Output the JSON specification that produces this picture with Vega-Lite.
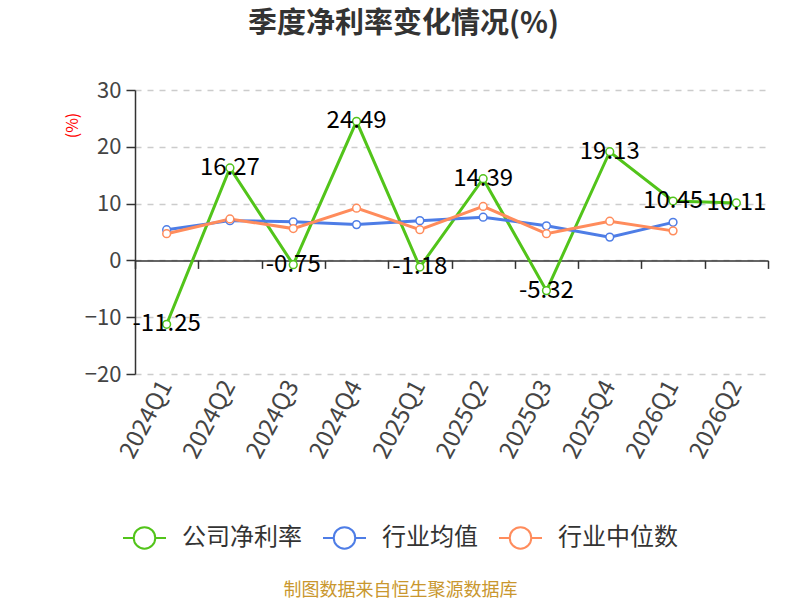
{
  "$schema": "https://vega.github.io/schema/vega-lite/v6.json",
  "width": 633,
  "height": 284,
  "autosize": {"type": "none"},
  "padding": {"left": 135, "top": 90, "right": 32, "bottom": 226},
  "background": "white",
  "title": {
    "text": "季度净利率变化情况(%)",
    "anchor": "middle",
    "dx": -48,
    "offset": 40,
    "fontSize": 29,
    "fontWeight": "bold",
    "color": "#333333",
    "font": "Noto Sans CJK SC"
  },
  "data": {
    "values": [
      {"quarter": "2024Q1", "series": "公司净利率", "value": -11.25},
      {"quarter": "2024Q2", "series": "公司净利率", "value": 16.27},
      {"quarter": "2024Q3", "series": "公司净利率", "value": -0.75},
      {"quarter": "2024Q4", "series": "公司净利率", "value": 24.49},
      {"quarter": "2025Q1", "series": "公司净利率", "value": -1.18},
      {"quarter": "2025Q2", "series": "公司净利率", "value": 14.39},
      {"quarter": "2025Q3", "series": "公司净利率", "value": -5.32},
      {"quarter": "2025Q4", "series": "公司净利率", "value": 19.13},
      {"quarter": "2026Q1", "series": "公司净利率", "value": 10.45},
      {"quarter": "2026Q2", "series": "公司净利率", "value": 10.11},
      {"quarter": "2024Q1", "series": "行业均值", "value": 5.4},
      {"quarter": "2024Q2", "series": "行业均值", "value": 7.0},
      {"quarter": "2024Q3", "series": "行业均值", "value": 6.8},
      {"quarter": "2024Q4", "series": "行业均值", "value": 6.3},
      {"quarter": "2025Q1", "series": "行业均值", "value": 7.0},
      {"quarter": "2025Q2", "series": "行业均值", "value": 7.6},
      {"quarter": "2025Q3", "series": "行业均值", "value": 6.1},
      {"quarter": "2025Q4", "series": "行业均值", "value": 4.1},
      {"quarter": "2026Q1", "series": "行业均值", "value": 6.7},
      {"quarter": "2024Q1", "series": "行业中位数", "value": 4.7},
      {"quarter": "2024Q2", "series": "行业中位数", "value": 7.3},
      {"quarter": "2024Q3", "series": "行业中位数", "value": 5.6},
      {"quarter": "2024Q4", "series": "行业中位数", "value": 9.2},
      {"quarter": "2025Q1", "series": "行业中位数", "value": 5.4},
      {"quarter": "2025Q2", "series": "行业中位数", "value": 9.5},
      {"quarter": "2025Q3", "series": "行业中位数", "value": 4.7},
      {"quarter": "2025Q4", "series": "行业中位数", "value": 6.9},
      {"quarter": "2026Q1", "series": "行业中位数", "value": 5.2}
    ]
  },
  "encoding": {
    "y": {
      "field": "value",
      "type": "quantitative",
      "scale": {"domain": [-20, 30], "nice": false, "zero": false},
      "axis": {
        "values": [-20, -10, 0, 10, 20, 30],
        "title": "(%)",
        "titleColor": "red",
        "titleFontSize": 16,
        "titleFontWeight": "normal",
        "titleX": -63,
        "titleY": 35,
        "titleAngle": -90,
        "titleAlign": "center",
        "titleBaseline": "middle",
        "labelFontSize": 22,
        "labelColor": "#444444",
        "labelPadding": 5,
        "tickSize": 9,
        "tickColor": "#333333",
        "domainColor": "#333333",
        "domainWidth": 1.5,
        "tickWidth": 1.5,
        "gridColor": "#cccccc",
        "gridDash": [6, 6],
        "gridWidth": 1.5
      }
    }
  },
  "layer": [
    {
      "mark": {
        "type": "line",
        "strokeWidth": 3,
        "point": {"filled": false, "fill": "white", "size": 60, "strokeWidth": 1.5}
      },
      "encoding": {
        "x": {
          "field": "quarter",
          "type": "nominal",
          "sort": null,
          "axis": {
            "orient": "bottom",
            "offset": -113.6,
            "labels": false,
            "title": null,
            "grid": false,
            "tickBand": "extent",
            "tickSize": 8,
            "tickColor": "#333333",
            "tickWidth": 1.5,
            "domainColor": "#333333",
            "domainWidth": 1.5
          }
        },
        "color": {
          "field": "series",
          "type": "nominal",
          "scale": {
            "domain": ["公司净利率", "行业均值", "行业中位数"],
            "range": ["#52c41a", "#4e7de6", "#ff8c5c"]
          },
          "legend": {
            "title": null,
            "orient": "none",
            "direction": "horizontal",
            "legendX": -13,
            "legendY": 425,
            "symbolType": "M-1,0H-0.5M0.5,0H1M0.5,0A0.5,0.5 0 1,1 -0.5,0A0.5,0.5 0 1,1 0.5,0",
            "symbolSize": 1849,
            "symbolStrokeWidth": 2,
            "symbolFillColor": "white",
            "labelFontSize": 24,
            "labelColor": "#333333",
            "labelOffset": 15,
            "columnPadding": 17,
            "labelFont": "Noto Sans CJK SC"
          }
        }
      }
    },
    {
      "transform": [{"filter": "datum.series === '公司净利率'"}],
      "mark": {"type": "text", "fontSize": 24, "color": "black", "align": "center", "baseline": "middle"},
      "encoding": {
        "x": {
          "field": "quarter",
          "type": "nominal",
          "sort": null,
          "axis": {
            "orient": "bottom",
            "domain": false,
            "ticks": false,
            "grid": false,
            "labelAngle": -62,
            "labelAlign": "right",
            "labelBaseline": "middle",
            "labelPadding": 8,
            "labelFontSize": 24,
            "labelColor": "#444444",
            "title": "制图数据来自恒生聚源数据库",
            "titleColor": "#c9972e",
            "titleFontSize": 18,
            "titleFontWeight": "normal",
            "titleFont": "Noto Sans CJK SC",
            "titleX": 265,
            "titleY": 216,
            "titleAlign": "center",
            "titleBaseline": "middle"
          }
        },
        "text": {"field": "value", "type": "nominal"}
      }
    }
  ],
  "resolve": {"axis": {"x": "independent"}},
  "config": {
    "font": "Noto Sans CJK SC",
    "view": {"stroke": null},
    "axis": {"labelFont": "Noto Sans CJK SC", "titleFont": "Noto Sans CJK SC"}
  }
}
